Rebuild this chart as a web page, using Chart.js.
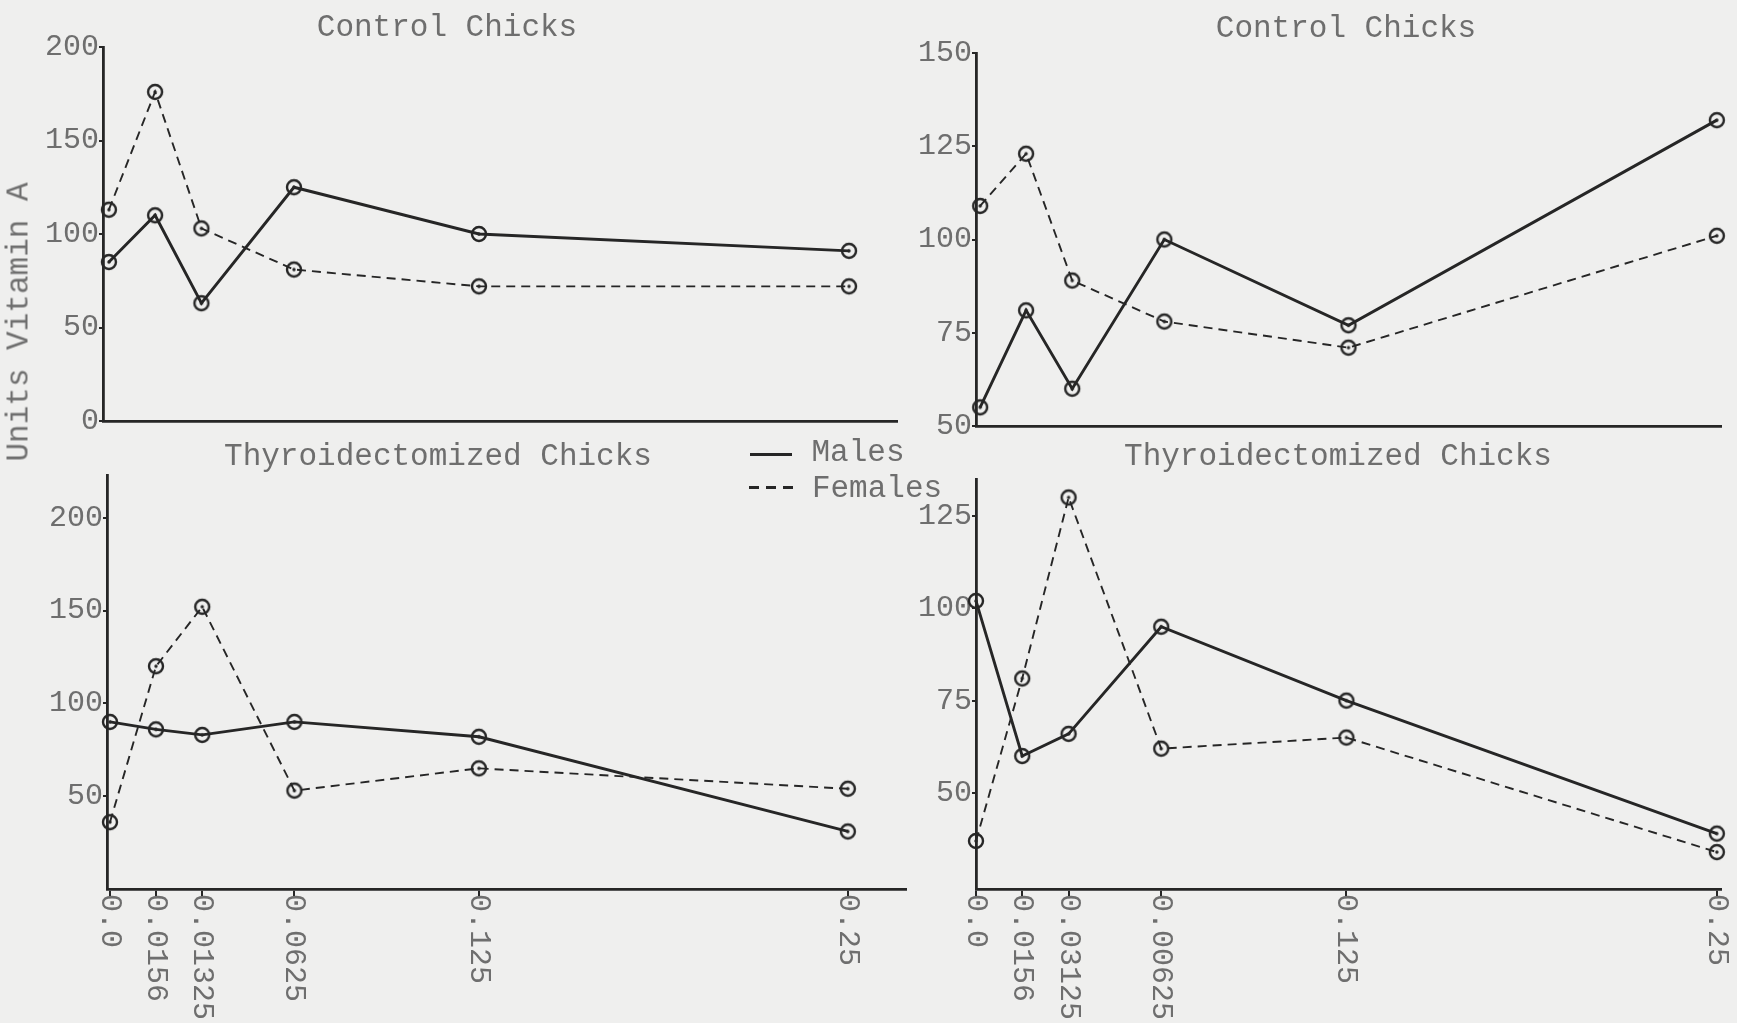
<!DOCTYPE html>
<html>
<head>
<meta charset="utf-8">
<script src="https://cdn.jsdelivr.net/npm/chart.js@4.4.0/dist/chart.umd.min.js"></script>
<style>
  body { margin: 0; background: #efefee; }
  #page { position: relative; width: 1737px; height: 1023px; overflow: hidden;
          font-family: 'Liberation Mono', monospace; color: #6e6e6e; }
  canvas { position: absolute; left: 0; top: 0; }
  .txt { position: absolute; font-size: 31px; line-height: 1; white-space: nowrap;
         transform: translate(-50%, -50%); }
  .solid { position: absolute; left: 750px; top: 453px; width: 42px; height: 3px; background: #262626; }
  .dash { position: absolute; left: 749px; top: 486px; width: 44px; height: 3px;
          background: repeating-linear-gradient(90deg, #262626 0 10px, transparent 10px 17px); }
</style>
</head>
<body>
<div id="page">
  <canvas id="c1" width="1737" height="1023"></canvas>
  <canvas id="c2" width="1737" height="1023"></canvas>
  <canvas id="c3" width="1737" height="1023"></canvas>
  <canvas id="c4" width="1737" height="1023"></canvas>

  <div class="txt" style="left:447px;top:27px">Control Chicks</div>
  <div class="txt" style="left:1346px;top:28px">Control Chicks</div>
  <div class="txt" style="left:438px;top:456px">Thyroidectomized Chicks</div>
  <div class="txt" style="left:1338px;top:456px">Thyroidectomized Chicks</div>
  <div class="txt" style="left:19px;top:322px;transform:translate(-50%,-50%) rotate(-90deg)">Units Vitamin A</div>

  <div class="solid"></div>
  <div class="txt" style="left:858px;top:452px">Males</div>
  <div class="dash"></div>
  <div class="txt" style="left:877px;top:488px">Females</div>
</div>

<script>
// doses (x values) and their typed labels
var doses = [0, 0.0156, 0.03125, 0.0625, 0.125, 0.25];
var doseLabelsLeft = ['0.0', '0.0156', '0.01325', '0.0625', '0.125', '0.25'];
var doseLabelsRight = ['0.0', '0.0156', '0.03125', '0.00625', '0.125', '0.25'];

// control chicks
var controlMalesA = [85, 110, 63, 125, 100, 91];
var controlFemalesA = [113, 176, 103, 81, 72, 72];
var controlMalesB = [55, 81, 60, 100, 77, 132];
var controlFemalesB = [109, 123, 89, 78, 71, 101];

// thyroidectomized chicks
var thyroMalesA = [90, 86, 83, 90, 82, 31];
var thyroFemalesA = [36, 120, 152, 53, 65, 54];
var thyroMalesB = [102, 60, 66, 95, 75, 39];
var thyroFemalesB = [37, 81, 130, 62, 65, 34];

// y tick labels
var ticksControlA = [0, 50, 100, 150, 200];
var ticksControlB = [50, 75, 100, 125, 150];
var ticksThyroA = [50, 100, 150, 200];
var ticksThyroB = [50, 75, 100, 125];

var ink = '#262626';
var grey = '#6e6e6e';
var monoFont = "'Liberation Mono', monospace";

// circle with a dot in the middle
function dotCircle() {
  var c = document.createElement('canvas');
  c.width = 22; c.height = 22;
  var g = c.getContext('2d');
  g.strokeStyle = ink;
  g.lineWidth = 2.4;
  g.beginPath(); g.arc(11, 11, 7, 0, Math.PI * 2); g.stroke();
  g.fillStyle = ink;
  g.beginPath(); g.arc(11, 11, 1.7, 0, Math.PI * 2); g.fill();
  return c;
}
var marker = dotCircle();

// rotated dose labels under the bottom panels
var doseLabelPlugin = {
  id: 'doseLabels',
  afterDraw: function(chart, args, opts) {
    if (!opts.labels) return;
    var ctx = chart.ctx;
    var xs = chart.scales.x;
    ctx.save();
    ctx.font = '30px ' + monoFont;
    ctx.fillStyle = grey;
    ctx.textAlign = 'left';
    ctx.textBaseline = 'middle';
    doses.forEach(function(d, i) {
      ctx.save();
      ctx.translate(xs.getPixelForValue(d), chart.chartArea.bottom + 5);
      ctx.rotate(Math.PI / 2);
      ctx.fillText(opts.labels[i], 0, 0);
      ctx.restore();
    });
    ctx.restore();
  }
};

function points(values) {
  return doses.map(function(d, i) { return { x: d, y: values[i] }; });
}

function panel(id, area, xRange, yRange, yTicks, males, females, labels) {
  new Chart(document.getElementById(id), {
    type: 'line',
    plugins: [doseLabelPlugin],
    data: {
      datasets: [
        {
          label: 'Males',
          data: points(males),
          borderColor: ink,
          borderWidth: 2.9,
          pointStyle: marker,
          pointRadius: 8,
          clip: false
        },
        {
          label: 'Females',
          data: points(females),
          borderColor: ink,
          borderWidth: 1.9,
          borderDash: [9, 6],
          pointStyle: marker,
          pointRadius: 8,
          clip: false
        }
      ]
    },
    options: {
      responsive: false,
      animation: false,
      events: [],
      layout: {
        padding: { left: area[0] - 70, top: area[1], right: 1737 - area[2], bottom: 1023 - area[3] - 10 }
      },
      plugins: {
        legend: { display: false },
        tooltip: { enabled: false },
        doseLabels: { labels: labels }
      },
      scales: {
        x: {
          type: 'linear',
          min: xRange[0],
          max: xRange[1],
          afterFit: function(s) { s.height = 10; },
          afterBuildTicks: function(s) { s.ticks = doses.map(function(v) { return { value: v }; }); },
          ticks: { display: false },
          grid: { display: !!labels, drawOnChartArea: false, tickLength: 7, color: ink, lineWidth: 2 },
          border: { color: ink, width: 2.8 }
        },
        y: {
          min: yRange[0],
          max: yRange[1],
          afterFit: function(s) { s.width = 70; },
          afterBuildTicks: function(s) { s.ticks = yTicks.map(function(v) { return { value: v }; }); },
          ticks: { font: { family: monoFont, size: 30 }, color: grey, padding: 0 },
          grid: { drawOnChartArea: false, tickLength: 4, color: ink, lineWidth: 2 },
          border: { color: ink, width: 2.8 }
        }
      }
    }
  });
}

panel('c1', [103, 47, 897, 421], [-0.002, 0.2662], [0, 200], ticksControlA, controlMalesA, controlFemalesA, null);
panel('c2', [976, 53, 1721, 426], [-0.0014, 0.2514], [50, 150], ticksControlB, controlMalesB, controlFemalesB, null);
panel('c3', [107, 475, 906, 889], [-0.001, 0.2697], [0, 223], ticksThyroA, thyroMalesA, thyroFemalesA, doseLabelsLeft);
panel('c4', [976, 479, 1721, 889], [0, 0.2514], [24, 135], ticksThyroB, thyroMalesB, thyroFemalesB, doseLabelsRight);
</script>
</body>
</html>
